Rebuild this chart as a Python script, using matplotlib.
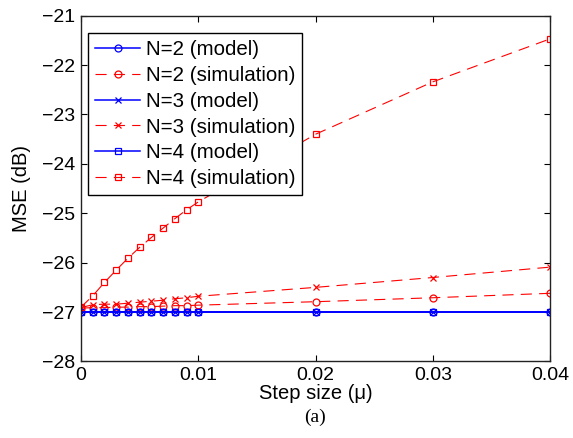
import matplotlib
matplotlib.use("Agg")
import matplotlib.pyplot as plt

plt.rcParams['font.family'] = ['Liberation Sans', 'DejaVu Sans']

# Step sizes
mu = [0.0, 0.001, 0.002, 0.003, 0.004, 0.005, 0.006, 0.007, 0.008, 0.009,
      0.010, 0.020, 0.030, 0.040]

# MSE (dB) from the analytical model
n2_model = [-26.99] * 14
n3_model = [-26.99] * 14
n4_model = [-26.99] * 14

# MSE (dB) from simulation
n2_sim = [-26.92, -26.91, -26.91, -26.90, -26.90, -26.89, -26.89, -26.88,
          -26.87, -26.87, -26.86, -26.79, -26.71, -26.62]
n3_sim = [-26.91, -26.85, -26.84, -26.84, -26.82, -26.80, -26.78, -26.76,
          -26.73, -26.71, -26.68, -26.50, -26.30, -26.09]
n4_sim = [-26.90, -26.67, -26.40, -26.15, -25.91, -25.69, -25.49, -25.30,
          -25.11, -24.93, -24.77, -23.40, -22.34, -21.47]

series = [
    ("N=2 (model)", n2_model, "b", "-", "o"),
    ("N=2 (simulation)", n2_sim, "r", "--", "o"),
    ("N=3 (model)", n3_model, "b", "-", "x"),
    ("N=3 (simulation)", n3_sim, "r", "--", "x"),
    ("N=4 (model)", n4_model, "b", "-", "s"),
    ("N=4 (simulation)", n4_sim, "r", "--", "s"),
]

fig = plt.figure(figsize=(5.73, 4.38), dpi=100)
ax = fig.add_axes([0.1414, 0.1747, 0.8185, 0.7895])

for label, vals, color, ls, mk in series:
    lw = 1.1 if ls == "-" else 0.8
    line, = ax.plot(mu, vals, color=color, linestyle=ls, marker=mk,
                    markersize=5, markerfacecolor="none", markeredgecolor=color,
                    markeredgewidth=0.9, linewidth=lw, label=label)
    if ls == "--":
        line.set_dashes((10, 6.5))

ax.set_xlim(0, 0.04)
ax.set_ylim(-28, -21)
ax.set_xticks([0, 0.01, 0.02, 0.03, 0.04])
ax.set_xticklabels(["0", "0.01", "0.02", "0.03", "0.04"])
ax.set_yticks(range(-28, -20))
ax.set_yticklabels(["\u2212%d" % abs(v) for v in range(-28, -20)])
ax.tick_params(direction="in", length=4, width=0.8, top=True, right=True,
               labelsize=14, pad=4)
for sp in ax.spines.values():
    sp.set_linewidth(1.0)
    sp.set_color("#222222")

ax.set_xlabel("Step size (\u03bc)", fontsize=14.5, labelpad=0)
ax.set_ylabel("MSE (dB)", fontsize=14.5, labelpad=8)

leg = ax.legend(loc="upper left", bbox_to_anchor=(0.0149, 0.950),
                borderaxespad=0, fontsize=14.8, numpoints=1, handlelength=2.2,
                handletextpad=0.25, labelspacing=0.33, borderpad=0.35,
                fancybox=False, framealpha=1, edgecolor="black")
leg.get_frame().set_linewidth(1.0)

fig.text(0.5506, 0.048, "(a)", fontsize=14, family="Liberation Serif",
         ha="center", va="center")

fig.savefig("out.png", dpi=100)
